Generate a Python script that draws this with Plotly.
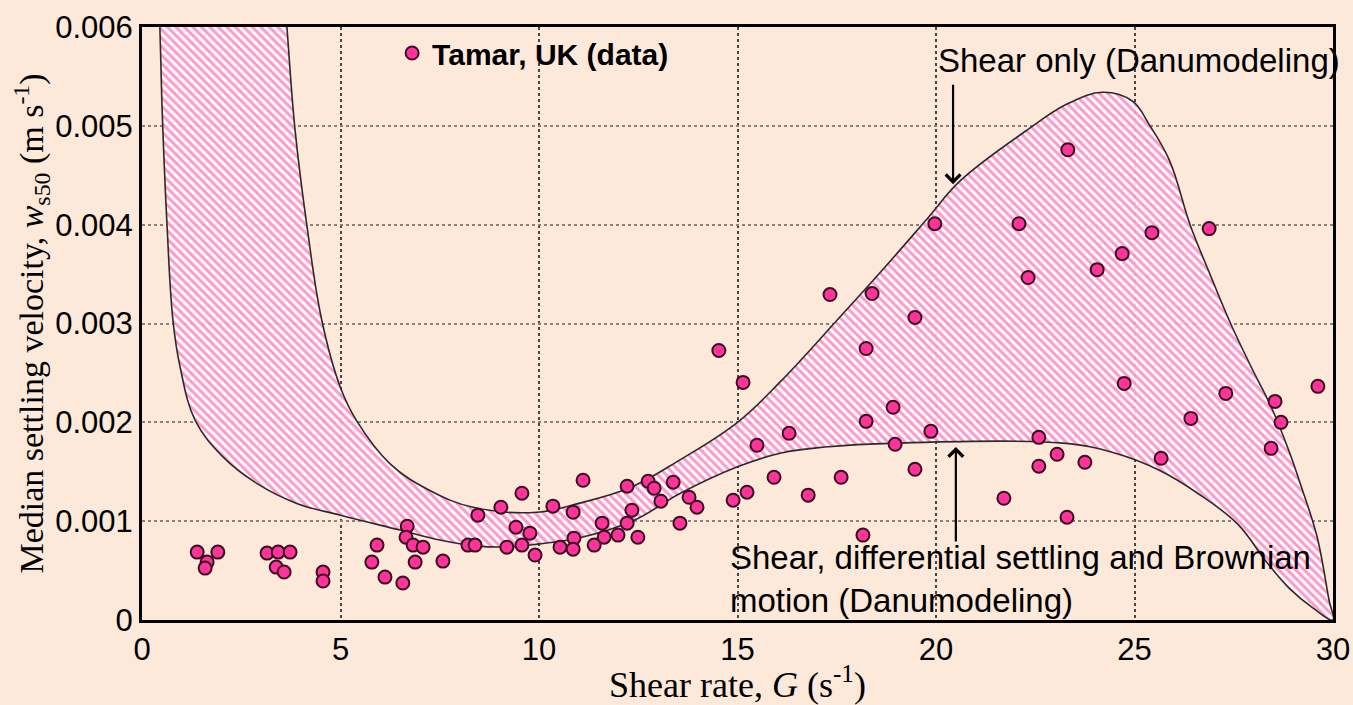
import plotly.graph_objects as go

# ---------------- data ----------------
# Tamar, UK measured data: shear rate G (1/s) and median settling velocity ws50 (m/s)
G_DATA = [1.39, 1.91, 1.64, 1.59, 3.15, 3.43, 3.73, 3.38, 3.58, 4.56,
          4.56, 5.92, 5.79, 6.12, 6.57, 6.68, 6.65, 6.83, 7.08, 6.88,
          7.58, 8.21, 8.39, 8.46, 9.04, 9.57, 10.35, 9.19, 9.57, 9.42,
          9.77, 9.90, 10.86, 10.53, 10.88, 10.86, 11.11, 11.59, 11.39, 11.64,
          11.99, 12.22, 12.34, 12.22, 12.75, 12.90, 13.07, 13.38, 12.49, 13.55,
          13.78, 13.98, 14.89, 15.24, 15.14, 15.49, 16.30, 18.24, 18.92, 18.97,
          19.87, 15.92, 16.78, 17.61, 19.47, 18.16, 23.32, 19.97, 22.09, 25.44,
          26.88, 24.69, 24.06, 22.32, 17.33, 18.39, 19.47, 14.53, 18.24, 24.74,
          27.30, 28.54, 28.69, 29.62, 26.42, 28.44, 22.59, 23.05, 23.75, 22.59,
          25.67, 23.30, 21.71]
W_DATA = [0.000687, 0.000687, 0.000586, 0.000525, 0.000677, 0.000687, 0.000687, 0.000535, 0.000485, 0.000485,
          0.000394, 0.000758, 0.000586, 0.000434, 0.000374, 0.000949, 0.000838, 0.000758, 0.000737, 0.000586,
          0.000596, 0.000758, 0.000758, 0.001061, 0.001141, 0.001283, 0.001152, 0.000737, 0.000758, 0.000939,
          0.000879, 0.000657, 0.001091, 0.000737, 0.000828, 0.000717, 0.001414, 0.000980, 0.000758, 0.000838,
          0.000859, 0.000980, 0.001111, 0.001354, 0.001404, 0.001333, 0.001202, 0.001394, 0.000838, 0.000980,
          0.001242, 0.001141, 0.001212, 0.001293, 0.002404, 0.001768, 0.001889, 0.002010, 0.002152, 0.001778,
          0.001909, 0.001444, 0.001263, 0.001444, 0.001525, 0.000859, 0.004758, 0.004010, 0.004010, 0.003919,
          0.003960, 0.003707, 0.003545, 0.003465, 0.003293, 0.003303, 0.003061, 0.002727, 0.002747, 0.002394,
          0.002293, 0.002212, 0.002000, 0.002364, 0.002040, 0.001737, 0.001848, 0.001677, 0.001596, 0.001556,
          0.001636, 0.001040, 0.001232]

# Lower model curve: shear, differential settling and Brownian motion (Danu modeling)
LOWER_G = [0.40, 0.45, 0.50, 0.63, 0.78, 0.96, 1.34, 2.04, 2.90, 3.90, 5.00, 6.50, 7.50, 8.40,
           9.30, 10.00, 11.00, 12.40, 13.55, 15.00, 16.10, 17.20, 19.00, 23.20, 24.50, 25.60,
           26.60, 27.60, 28.30, 28.90, 29.50, 30.00]
LOWER_W = [0.0065, 0.0060, 0.00525, 0.0040, 0.00303, 0.00256, 0.00202, 0.00165, 0.00138, 0.00118,
           0.00106, 0.00091, 0.00081, 0.00075, 0.00074, 0.00077, 0.00083, 0.00101, 0.00128, 0.00155,
           0.00169, 0.00175, 0.00179, 0.00179, 0.00169, 0.00152, 0.00128, 0.00097, 0.00060, 0.00032,
           0.00012, 0.0]

# Upper model curve: shear only (Danu modeling)
UPPER_G = [3.55, 3.65, 3.85, 4.15, 4.53, 5.00, 5.40, 6.25, 7.25, 8.34, 9.95, 11.00, 12.30, 13.55,
           15.00, 16.10, 17.50, 18.56, 19.80, 20.60, 22.27, 23.30, 24.20, 24.95, 25.36, 25.88,
           26.40, 26.90, 27.42, 27.94, 28.45, 28.90, 29.20, 29.60, 29.90, 30.00]
UPPER_W = [0.0065, 0.0060, 0.00498, 0.0040, 0.00303, 0.00235, 0.00202, 0.00158, 0.00131, 0.00114,
           0.00109, 0.00118, 0.00134, 0.00162, 0.00200, 0.00242, 0.00303, 0.00350, 0.00407, 0.00444,
           0.00495, 0.00522, 0.00534, 0.00525, 0.00502, 0.00465, 0.00400, 0.00350, 0.00300, 0.00256,
           0.00215, 0.00170, 0.00135, 0.00084, 0.00020, 0.0]

X_TICKS = [0, 5, 10, 15, 20, 25, 30]
Y_TICKS = [0, 0.001, 0.002, 0.003, 0.004, 0.005, 0.006]
Y_TICKTEXT = ["0", "0.001", "0.002", "0.003", "0.004", "0.005", "0.006"]

# ---------------- figure ----------------
BG = "#fde9da"
PINK = "#ff3399"
SANS = "Liberation Sans, Arial, sans-serif"
SERIF = "Liberation Serif, Times New Roman, serif"

band_x = LOWER_G + UPPER_G[::-1][1:]
band_y = LOWER_W + UPPER_W[::-1][1:]

fig = go.Figure()

fig.add_trace(go.Scatter(
    x=band_x, y=band_y, mode="lines", fill="toself",
    fillcolor="rgba(255,255,255,0.88)",
    fillpattern=dict(shape="\\", fgcolor=PINK, bgcolor="rgba(255,255,255,0.88)",
                     size=6, solidity=0.5),
    line=dict(color="#2b2b2b", width=1.6, shape="spline", smoothing=1.1),
    showlegend=False, hoverinfo="skip",
))

# flat plateau of the lower curve (thicker black segment)
plateau = max(LOWER_W[5:])
flat_x = [g for g, w in zip(LOWER_G, LOWER_W) if w == plateau]
flat_y = [w for w in LOWER_W if w == plateau]
fig.add_trace(go.Scatter(x=flat_x, y=flat_y, mode="lines",
                         line=dict(color="black", width=3), showlegend=False,
                         hoverinfo="skip"))

fig.add_trace(go.Scatter(
    x=G_DATA, y=W_DATA, mode="markers", name="<b>Tamar, UK (data)</b>",
    marker=dict(size=13, color=PINK, line=dict(color="#3a0f22", width=2)),
))

annotations = [
    dict(x=20.43, y=0.00441, ax=20.43, ay=0.00543, xref="x", yref="y",
         axref="x", ayref="y", showarrow=True, arrowhead=4, arrowsize=1.3,
         arrowwidth=2.2, arrowcolor="black", text=""),
    dict(x=20.5, y=0.00175, ax=20.5, ay=0.00078, xref="x", yref="y",
         axref="x", ayref="y", showarrow=True, arrowhead=4, arrowsize=1.3,
         arrowwidth=2.2, arrowcolor="black", text=""),
    dict(x=20.0, y=0.00566, xref="x", yref="y", showarrow=False,
         xanchor="left", yanchor="middle", text="Shear only (Danumodeling)",
         font=dict(family=SANS, size=33, color="black")),
    dict(x=14.75, y=0.00063, xref="x", yref="y", showarrow=False,
         xanchor="left", yanchor="middle",
         text="Shear, differential settling and Brownian",
         font=dict(family=SANS, size=33, color="black")),
    dict(x=14.75, y=0.00020, xref="x", yref="y", showarrow=False,
         xanchor="left", yanchor="middle", text="motion (Danumodeling)",
         font=dict(family=SANS, size=33, color="black")),
]

fig.update_layout(
    width=1353, height=705,
    margin=dict(l=142, r=20, t=27, b=85),
    paper_bgcolor=BG, plot_bgcolor=BG,
    annotations=annotations,
    showlegend=True,
    legend=dict(x=0.21, y=1.0, xanchor="left", yanchor="top",
                bgcolor="rgba(0,0,0,0)", borderwidth=0,
                font=dict(family=SANS, size=30, color="black"),
                itemwidth=30),
    xaxis=dict(range=[0, 30], tickvals=X_TICKS, showgrid=True, automargin=False,
               gridcolor="#4a4440", gridwidth=2, griddash="dot",
               showline=True, linecolor="black", linewidth=3, mirror=True,
               zeroline=False, ticks="", ticklen=0,
               tickfont=dict(family=SANS, size=31, color="black"),
               title=dict(text="Shear rate, <i>G</i> (s<sup>-1</sup>)",
                          font=dict(family=SERIF, size=36, color="black"),
                          standoff=0)),
    yaxis=dict(range=[0, 0.006], tickvals=Y_TICKS, ticktext=Y_TICKTEXT,
               showgrid=True, automargin=False,
               gridcolor="#8c807a", gridwidth=2, griddash="dot",
               showline=True, linecolor="black", linewidth=3, mirror=True,
               zeroline=False, ticks="", ticklen=0,
               tickfont=dict(family=SANS, size=31, color="black"),
               title=dict(text="Median settling velocity, <i>w</i><sub>s50</sub> (m s<sup>-1</sup>)",
                          font=dict(family=SERIF, size=34, color="black"),
                          standoff=0)),
)

fig.write_html(
    "out.html",
    config={"displayModeBar": False},
    post_script="document.body.style.margin='0';"
                "document.body.style.background='" + BG + "';",
)
